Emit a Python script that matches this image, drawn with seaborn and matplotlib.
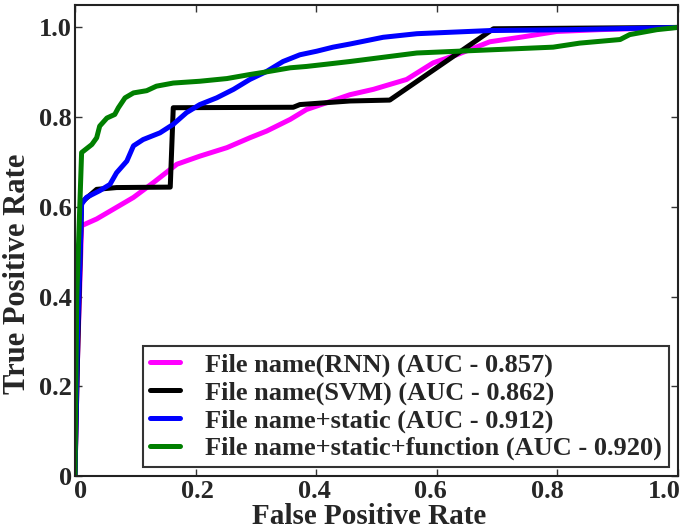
import matplotlib
matplotlib.use("Agg")
import matplotlib.pyplot as plt
import matplotlib.transforms as mtransforms
import numpy as np
import pandas as pd
import seaborn as sns

# ROC curves: false positive rate / true positive rate for each model
rnn_fpr = [0.0, 0.004, 0.011, 0.036, 0.064, 0.097, 0.130, 0.169, 0.207, 0.252, 0.290,
           0.318, 0.357, 0.384, 0.417, 0.456, 0.495, 0.550, 0.594, 0.633, 0.688,
           0.743, 0.799, 0.870, 1.0]
rnn_tpr = [0.0, 0.25, 0.558, 0.573, 0.595, 0.621, 0.654, 0.695, 0.713, 0.732, 0.754,
           0.769, 0.795, 0.817, 0.832, 0.850, 0.862, 0.884, 0.921, 0.939, 0.968,
           0.979, 0.991, 0.995, 1.0]

svm_fpr = [0.0, 0.004, 0.011, 0.036, 0.069, 0.158, 0.163, 0.362, 0.373, 0.456, 0.522,
           0.694, 1.0]
svm_tpr = [0.0, 0.25, 0.610, 0.639, 0.643, 0.644, 0.821, 0.822, 0.828, 0.836, 0.838,
           0.997, 1.0]

static_fpr = [0.0, 0.004, 0.011, 0.019, 0.041, 0.058, 0.069, 0.086, 0.097, 0.113, 0.141,
              0.163, 0.185, 0.207, 0.235, 0.263, 0.290, 0.318, 0.345, 0.373, 0.401,
              0.428, 0.456, 0.511, 0.567, 0.688, 0.820, 1.0]
static_tpr = [0.0, 0.30, 0.606, 0.621, 0.636, 0.650, 0.676, 0.702, 0.736, 0.750, 0.765,
              0.784, 0.810, 0.828, 0.843, 0.862, 0.884, 0.902, 0.924, 0.939, 0.947,
              0.956, 0.963, 0.978, 0.986, 0.993, 0.995, 1.0]

func_fpr = [0.0, 0.003, 0.011, 0.028, 0.036, 0.041, 0.053, 0.066, 0.072, 0.083, 0.097,
            0.119, 0.135, 0.163, 0.207, 0.252, 0.290, 0.318, 0.357, 0.384, 0.417,
            0.456, 0.567, 0.688, 0.793, 0.837, 0.904, 0.920, 0.965, 1.0]
func_tpr = [0.0, 0.40, 0.721, 0.739, 0.754, 0.780, 0.798, 0.806, 0.821, 0.843, 0.854,
            0.859, 0.869, 0.876, 0.880, 0.886, 0.895, 0.901, 0.910, 0.913, 0.918,
            0.924, 0.943, 0.950, 0.956, 0.965, 0.973, 0.984, 0.995, 1.0]

labels = ["File name(RNN) (AUC - 0.857)",
          "File name(SVM) (AUC - 0.862)",
          "File name+static (AUC - 0.912)",
          "File name+static+function (AUC - 0.920)"]
colors = ["#ff00ff", "#000000", "#0000ff", "#007f00"]

frames = []
for lab, fpr, tpr in zip(labels, [rnn_fpr, svm_fpr, static_fpr, func_fpr],
                         [rnn_tpr, svm_tpr, static_tpr, func_tpr]):
    frames.append(pd.DataFrame({"fpr": fpr, "tpr": tpr, "model": lab}))
df = pd.concat(frames, ignore_index=True)

sns.set_style("ticks")
plt.rcParams["font.family"] = ["Liberation Serif", "DejaVu Serif"]
plt.rcParams["font.weight"] = "bold"

fig = plt.figure(figsize=(6.84, 5.31), dpi=100)
ax = fig.add_axes([0.1096, 0.1036, 0.8816, 0.887])

sns.lineplot(data=df, x="fpr", y="tpr", hue="model", hue_order=labels,
             palette=dict(zip(labels, colors)), sort=False, estimator=None,
             units="model", linewidth=3.6, ax=ax)

ax.set_xlim(0, 1.0)
ax.set_ylim(0, 1.05)
ticks = [0, 0.2, 0.4, 0.6, 0.8, 1.0]
ticklabels = ["0", "0.2", "0.4", "0.6", "0.8", "1.0"]
ax.set_xticks(ticks)
ax.set_xticklabels(ticklabels)
ax.set_yticks(ticks)
ax.set_yticklabels(ticklabels)
ax.tick_params(direction="in", length=5, width=1, top=True, right=True,
               labelsize=19, color="#333333")
ax.tick_params(axis="x", pad=3)
ax.tick_params(axis="y", pad=2)
for lab in ax.get_xticklabels() + ax.get_yticklabels():
    lab.set_fontweight("bold")
for sp in ax.spines.values():
    sp.set_color("#222222")
    sp.set_linewidth(1.5)

ax.set_xlabel("False Positive Rate", fontsize=21, fontweight="bold")
ax.set_ylabel("True Positive Rate", fontsize=22, fontweight="bold")
ax.yaxis.set_label_coords(-0.072, 0.43)
ax.xaxis.set_label_coords(0.488, -0.058)

leg = ax.legend(loc="lower right", prop={"size": 19, "weight": "bold"},
                handlelength=1.17, handletextpad=0.95, labelspacing=0.15,
                borderpad=0.25, borderaxespad=0, fancybox=False, framealpha=1,
                edgecolor="#333333", bbox_to_anchor=(0.985, 0.019))
leg.get_frame().set_linewidth(1.5)
for h in leg.get_lines():
    h.set_linewidth(3.6)

# x tick labels sit on a slightly tighter spacing than the ticks themselves
for i, lab in enumerate(ax.get_xticklabels()):
    dx = (6 - 4 * i) / 100.0
    lab.set_transform(lab.get_transform()
                      + mtransforms.ScaledTranslation(dx, 0, fig.dpi_scale_trans))

fig.savefig("out.png", dpi=100)
